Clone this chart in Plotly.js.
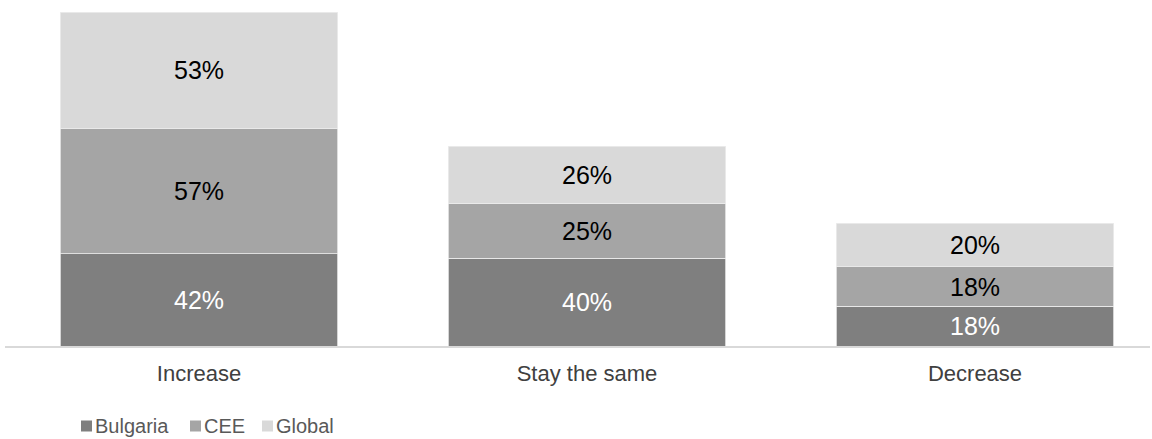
<!DOCTYPE html>
<html>
<head>
<meta charset="utf-8">
<script src="https://cdn.plot.ly/plotly-3.0.1.min.js"></script>
<style>html,body{margin:0;padding:0;background:#fff;}#chart{width:1152px;height:439px;}</style>
</head>
<body>
<div id="chart"></div>
<script>
const categories = ["Increase", "Stay the same", "Decrease"];
const seriesNames = ["Bulgaria", "CEE", "Global"];
const bulgaria = [42, 40, 18];
const cee = [57, 25, 18];
const global = [53, 26, 20];
const seriesColors = ["#7f7f7f", "#a5a5a5", "#d9d9d9"];
const labelColors = ["#ffffff", "#000000", "#000000"];

const xpos = categories.map((c, i) => i);
const values = [bulgaria, cee, global];

const traces = values.map((vals, k) => ({
  type: "bar",
  name: seriesNames[k],
  x: xpos,
  y: vals,
  width: 0.714,
  marker: { color: seriesColors[k], line: { color: "#ececec", width: 0.8 } },
  text: vals.map(v => v + "%"),
  textposition: "inside",
  insidetextanchor: "middle",
  constraintext: "none",
  textangle: 0,
  textfont: { family: "Liberation Sans, Arial, sans-serif", size: 25, color: labelColors[k] },
  hoverinfo: "skip",
  showlegend: false
}));

// Legend drawn as square swatches + series names, placed like the reference
const plotLeft = 5, plotWidth = 1145, plotBottom = 346, plotHeight = 336;
const px2x = p => (p - plotLeft) / plotWidth;
const px2y = p => (plotBottom - p) / plotHeight;
const swatchLeft = [81, 190, 262];
const swatchSize = 11;
const legendMid = 426;

const legendShapes = seriesNames.map((name, k) => ({
  type: "rect", xref: "paper", yref: "paper",
  x0: px2x(swatchLeft[k]), x1: px2x(swatchLeft[k] + swatchSize),
  y0: px2y(legendMid + swatchSize / 2), y1: px2y(legendMid - swatchSize / 2),
  fillcolor: seriesColors[k], line: { width: 0 }, layer: "above"
}));

const legendAnnotations = seriesNames.map((name, k) => ({
  xref: "paper", yref: "paper",
  x: px2x(swatchLeft[k] + swatchSize + 2),
  y: px2y(legendMid),
  xanchor: "left", yanchor: "middle",
  showarrow: false,
  align: "left",
  borderpad: 0,
  text: name,
  font: { family: "Liberation Sans, Arial, sans-serif", size: 20, color: "#595959" }
}));

const layout = {
  width: 1152,
  height: 439,
  margin: { l: 5, r: 2, t: 10, b: 93 },
  barmode: "stack",
  paper_bgcolor: "#ffffff",
  plot_bgcolor: "#ffffff",
  font: { family: "Liberation Sans, Arial, sans-serif", color: "#595959", size: 16 },
  xaxis: {
    range: [-0.5, 2.451],
    tickmode: "array",
    tickvals: xpos,
    ticktext: categories,
    showgrid: false,
    zeroline: false,
    showline: true,
    linecolor: "#d9d9d9",
    linewidth: 2,
    ticks: "",
    ticklen: 0,
    ticklabelstandoff: 7,
    tickfont: { size: 22, color: "#404040" },
    fixedrange: true,
    automargin: false
  },
  yaxis: {
    range: [0, 153],
    visible: false,
    showgrid: false,
    zeroline: false,
    fixedrange: true
  },
  showlegend: false,
  shapes: legendShapes,
  annotations: legendAnnotations
};

Plotly.newPlot("chart", traces, layout, { displayModeBar: false, staticPlot: true });
</script>
</body>
</html>
